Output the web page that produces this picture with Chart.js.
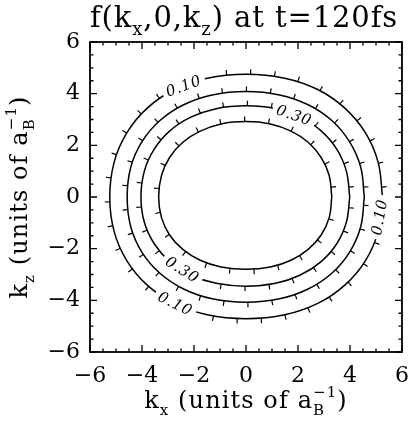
<!DOCTYPE html>
<html>
<head>
<meta charset="utf-8">
<script src="https://cdn.jsdelivr.net/npm/chart.js@4.4.1/dist/chart.umd.min.js"></script>
<style>
  html, body { margin: 0; padding: 0; background: #fff; }
  canvas { display: block; }
</style>
</head>
<body>
<canvas id="c" width="409" height="424"></canvas>
<script>
// Contour levels of f(kx, 0, kz)
const levels = [0.10, 0.20, 0.30, 0.40];
const levelText = ['0.10', '0.20', '0.30', '0.40'];

// Closed contour paths, [kx, kz] in units of 1/a_B
const contour010 = [
  [5.25, 0.00], [5.08, 1.35], [4.59, 2.49], [3.80, 3.44], [2.76, 4.16], [1.49, 4.60], [0.00, 4.75],
  [-1.49, 4.60], [-2.75, 4.16], [-3.80, 3.44], [-4.58, 2.49], [-5.07, 1.35], [-5.24, 0.00],
  [-5.07, -1.34], [-4.58, -2.47], [-3.80, -3.41], [-2.75, -4.12], [-1.49, -4.56], [0.00, -4.71],
  [1.49, -4.56], [2.76, -4.12], [3.80, -3.41], [4.59, -2.47], [5.08, -1.34], [5.25, 0.00]
];
const contour020 = [
  [4.55, 0.00], [4.41, 1.16], [3.98, 2.14], [3.30, 2.96], [2.39, 3.57], [1.29, 3.95], [0.00, 4.08],
  [-1.30, 3.95], [-2.40, 3.57], [-3.31, 2.96], [-4.00, 2.14], [-4.43, 1.16], [-4.57, 0.00],
  [-4.43, -1.16], [-4.00, -2.14], [-3.31, -2.95], [-2.40, -3.56], [-1.30, -3.94], [0.00, -4.07],
  [1.29, -3.94], [2.39, -3.56], [3.30, -2.95], [3.98, -2.14], [4.41, -1.16], [4.55, 0.00]
];
const contour030 = [
  [3.99, 0.00], [3.86, 1.00], [3.49, 1.85], [2.89, 2.56], [2.09, 3.09], [1.14, 3.42], [0.00, 3.53],
  [-1.15, 3.42], [-2.12, 3.09], [-2.93, 2.56], [-3.53, 1.85], [-3.91, 1.00], [-4.04, 0.00],
  [-3.91, -0.98], [-3.53, -1.81], [-2.93, -2.50], [-2.12, -3.02], [-1.15, -3.34], [0.00, -3.45],
  [1.14, -3.34], [2.09, -3.02], [2.89, -2.50], [3.49, -1.81], [3.86, -0.98], [3.99, 0.00]
];
const contour040 = [
  [3.30, 0.00], [3.20, 0.83], [2.89, 1.53], [2.39, 2.12], [1.73, 2.55], [0.94, 2.83], [0.00, 2.92],
  [-0.96, 2.83], [-1.76, 2.55], [-2.43, 2.12], [-2.94, 1.53], [-3.25, 0.83], [-3.36, 0.00],
  [-3.25, -0.80], [-2.94, -1.47], [-2.43, -2.03], [-1.76, -2.45], [-0.96, -2.71], [0.00, -2.80],
  [0.94, -2.71], [1.73, -2.45], [2.39, -2.03], [2.89, -1.47], [3.20, -0.80], [3.30, 0.00]
];
const contours = [contour010, contour020, contour030, contour040];

// Axis ticks
const xTickValues = [-6, -4, -2, 0, 2, 4, 6];
const xTickLabels = ['\u22126', '\u22124', '\u22122', '0', '2', '4', '6'];
const yTickValues = [-6, -4, -2, 0, 2, 4, 6];
const yTickLabels = ['\u22126', '\u22124', '\u22122', '0', '2', '4', '6'];
const minorPerMajor = 4;

// In-line level labels: contour index, anchor on the curve (kx, kz), text angle in degrees
const curveLabels = [
  { contour: 0, kx: -2.40, kz: 4.30, angle: -20 },
  { contour: 2, kx: 1.85, kz: 3.17, angle: 19 },
  { contour: 2, kx: -2.45, kz: -2.81, angle: 32 },
  { contour: 0, kx: -2.72, kz: -4.13, angle: 26 },
  { contour: 0, kx: 5.13, kz: -0.78, angle: -80 }
];

const SERIF = '"DejaVu Serif", "Liberation Serif", serif';

function setFont(ctx, size, spacing, style) {
  ctx.font = (style ? style + ' ' : '') + size + 'px ' + SERIF;
  ctx.letterSpacing = spacing + 'px';
}

function richWidth(ctx, parts, size, spacing) {
  let w = 0;
  for (const p of parts) {
    if (p.t !== undefined) {
      setFont(ctx, size, spacing);
      w += ctx.measureText(p.t).width;
    } else {
      setFont(ctx, Math.round(size * 0.62), spacing);
      const a = p.sub ? ctx.measureText(p.sub).width : 0;
      const b = p.sup ? ctx.measureText(p.sup).width : 0;
      w += Math.max(a, b);
    }
  }
  return w;
}

// Text with subscripts / superscripts; (x, y) = left end of the baseline
function drawRich(ctx, parts, x, y, size, spacing) {
  ctx.textAlign = 'left';
  ctx.textBaseline = 'alphabetic';
  let cx = x;
  for (const p of parts) {
    if (p.t !== undefined) {
      setFont(ctx, size, spacing);
      ctx.fillText(p.t, cx, y);
      cx += ctx.measureText(p.t).width;
    } else {
      setFont(ctx, Math.round(size * 0.62), spacing);
      let w = 0;
      if (p.sub) { ctx.fillText(p.sub, cx, y + size * 0.28); w = ctx.measureText(p.sub).width; }
      if (p.sup) { ctx.fillText(p.sup, cx, y - size * 0.45); w = Math.max(w, ctx.measureText(p.sup).width); }
      cx += w;
    }
  }
}

const titleParts = [{ t: 'f(k' }, { sub: 'x' }, { t: ',0,k' }, { sub: 'z' }, { t: ') at t=120fs' }];
const xTitleParts = [{ t: 'k' }, { sub: 'x' }, { t: ' (units of a' }, { sub: 'B', sup: '\u22121' }, { t: ')' }];
const yTitleParts = [{ t: 'k' }, { sub: 'z' }, { t: ' (units of a' }, { sub: 'B', sup: '\u22121' }, { t: ')' }];

// Downhill tick marks along each contour, then the level labels, frame and titles
const contourDecor = {
  id: 'contourDecor',
  afterDatasetsDraw(chart) {
    const ctx = chart.ctx;
    const xs = chart.scales.x, ys = chart.scales.y;
    const area = chart.chartArea;

    ctx.save();
    ctx.strokeStyle = '#000';
    ctx.lineWidth = 1.2;
    chart.data.datasets.forEach((ds, di) => {
      const pts = chart.getDatasetMeta(di).data;
      let cxm = 0, cym = 0;
      pts.forEach(p => { cxm += p.x; cym += p.y; });
      cxm /= pts.length; cym /= pts.length;
      const spacing = 24, len = 5;
      let next = 10, acc = 0;
      for (let i = 0; i < pts.length - 1; i++) {
        const a = pts[i], b = pts[i + 1];
        const c1x = a.cp2x ?? a.x, c1y = a.cp2y ?? a.y;
        const c2x = b.cp1x ?? b.x, c2y = b.cp1y ?? b.y;
        let px = a.x, py = a.y;
        const steps = 30;
        for (let s = 1; s <= steps; s++) {
          const t = s / steps, u = 1 - t;
          const qx = u*u*u*a.x + 3*u*u*t*c1x + 3*u*t*t*c2x + t*t*t*b.x;
          const qy = u*u*u*a.y + 3*u*u*t*c1y + 3*u*t*t*c2y + t*t*t*b.y;
          const d = Math.hypot(qx - px, qy - py);
          if (acc + d >= next && d > 0) {
            const f = (next - acc) / d;
            const mx = px + (qx - px) * f, my = py + (qy - py) * f;
            let nx = (qy - py) / d, ny = -(qx - px) / d;
            if (nx * (mx - cxm) + ny * (my - cym) < 0) { nx = -nx; ny = -ny; }
            ctx.beginPath();
            ctx.moveTo(mx, my);
            ctx.lineTo(mx + nx * len, my + ny * len);
            ctx.stroke();
            next += spacing;
          }
          acc += d;
          px = qx; py = qy;
        }
      }
    });

    // level labels, with a white gap cut into the line
    ctx.textAlign = 'center';
    ctx.textBaseline = 'middle';
    curveLabels.forEach(l => {
      const text = levelText[l.contour];
      const x = xs.getPixelForValue(l.kx), y = ys.getPixelForValue(l.kz);
      ctx.save();
      setFont(ctx, 15, 0.8, 'italic');
      ctx.translate(x, y);
      ctx.rotate(l.angle * Math.PI / 180);
      const w = ctx.measureText(text).width;
      ctx.fillStyle = '#fff';
      ctx.fillRect(-w / 2 - 4, -7, w + 8, 14);
      ctx.fillStyle = '#000';
      ctx.fillText(text, 0, 1);
      ctx.restore();
    });

    // frame with inward major and minor ticks on all four sides
    ctx.lineWidth = 1.8;
    ctx.strokeRect(area.left, area.top, area.right - area.left, area.bottom - area.top);
    ctx.lineWidth = 1.3;
    const drawTicks = (values, scale, horizontal) => {
      for (let i = 0; i < values.length; i++) {
        const v0 = values[i];
        const last = i === values.length - 1;
        const step = last ? 0 : (values[i + 1] - v0) / minorPerMajor;
        const n = last ? 1 : minorPerMajor;
        for (let k = 0; k < n; k++) {
          const v = v0 + k * step;
          const L = k === 0 ? 7 : 3.5;
          const p = scale.getPixelForValue(v);
          ctx.beginPath();
          if (horizontal) {
            ctx.moveTo(p, area.bottom); ctx.lineTo(p, area.bottom - L);
            ctx.moveTo(p, area.top); ctx.lineTo(p, area.top + L);
          } else {
            ctx.moveTo(area.left, p); ctx.lineTo(area.left + L, p);
            ctx.moveTo(area.right, p); ctx.lineTo(area.right - L, p);
          }
          ctx.stroke();
        }
      }
    };
    drawTicks(xTickValues, xs, true);
    drawTicks(yTickValues, ys, false);
    ctx.restore();
  },
  afterDraw(chart) {
    const ctx = chart.ctx;
    const area = chart.chartArea;
    ctx.save();
    ctx.fillStyle = '#000';
    const tSize = 29, tSp = 0.9;
    const tw = richWidth(ctx, titleParts, tSize, tSp);
    drawRich(ctx, titleParts, 244 - tw / 2, 27, tSize, tSp);

    const aSize = 24, aSp = 1.1;
    const xw = richWidth(ctx, xTitleParts, aSize, aSp);
    drawRich(ctx, xTitleParts, (area.left + area.right) / 2 - xw / 2, 408, aSize, aSp);

    const yw = richWidth(ctx, yTitleParts, aSize, aSp);
    ctx.translate(27, (area.top + area.bottom) / 2);
    ctx.rotate(-Math.PI / 2);
    drawRich(ctx, yTitleParts, -yw / 2, 0, aSize, aSp);
    ctx.restore();
  }
};

const datasets = contours.map((c, i) => ({
  label: levelText[i],
  data: c.map(p => ({ x: p[0], y: p[1] })),
  borderColor: '#000',
  borderWidth: 1.5,
  pointRadius: 0,
  tension: 0.4,
  fill: false
}));

const tickFont = { family: SERIF, size: 22 };

new Chart(document.getElementById('c'), {
  type: 'line',
  data: { datasets },
  options: {
    responsive: false,
    animation: false,
    devicePixelRatio: 1,
    parsing: { xAxisKey: 'x', yAxisKey: 'y' },
    layout: { padding: { top: 42, right: 7, left: 0, bottom: 0 } },
    plugins: { legend: { display: false }, tooltip: { enabled: false }, title: { display: false } },
    scales: {
      x: {
        type: 'linear', min: -6, max: 6,
        afterBuildTicks: s => { s.ticks = xTickValues.map(v => ({ value: v })); },
        afterFit: s => { s.height = 72; s.paddingLeft = 0; s.paddingRight = 0; },
        ticks: {
          autoSkip: false, maxRotation: 0, padding: 11, color: '#000', font: tickFont,
          callback: (v, i) => xTickLabels[i]
        },
        grid: { display: false, drawTicks: false },
        border: { display: false }
      },
      y: {
        type: 'linear', min: -6, max: 6,
        afterBuildTicks: s => { s.ticks = yTickValues.map(v => ({ value: v })); },
        afterFit: s => { s.width = 90; s.paddingTop = 0; s.paddingBottom = 0; },
        ticks: {
          autoSkip: false, padding: 10, color: '#000', font: tickFont,
          callback: (v, i) => yTickLabels[i]
        },
        grid: { display: false, drawTicks: false },
        border: { display: false }
      }
    }
  },
  plugins: [contourDecor]
});
</script>
</body>
</html>
